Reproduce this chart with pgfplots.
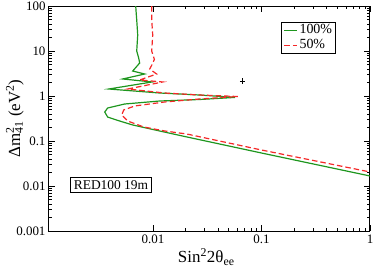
\documentclass[border=0pt]{standalone}
\usepackage{pgfplots}
\pgfplotsset{compat=1.18}
\usepackage{fontspec}
\setmainfont{Liberation Serif}
\definecolor{grn}{RGB}{30,150,30}
\definecolor{rd}{RGB}{245,40,40}
\begin{document}
\begin{tikzpicture}
\useasboundingbox (-49bp,-44bp) rectangle (325bp,231bp);
\begin{axis}[
  at={(0,0)}, anchor=south west,
  scale only axis, width=321bp, height=225bp,
  xmode=log, ymode=log,
  xmin=0.0011, xmax=1, ymin=0.001, ymax=100,
  xtick={0.01,0.1,1}, xticklabels={0.01,0.1,1},
  ytick={0.001,0.01,0.1,1,10,100}, yticklabels={0.001,0.01,0.1,1,10,100},
  /pgf/number format/assume math mode=true,
  tick label style={font=\fontsize{13}{15}\selectfont},
  major tick length=6bp, minor tick length=3bp,
  axis line style={line width=1pt},
  every tick/.style={black, line width=0.8pt},
  xlabel={Sin\textsuperscript{2}2θ\textsubscript{ee}},
  ylabel={Δm\rlap{\textsuperscript{2}}\textsubscript{41} (eV\textsuperscript{2})},
  xlabel style={at={(axis description cs:0.49,-0.142)}, anchor=base, font=\fontsize{17}{19}\selectfont},
  ylabel style={at={(axis description cs:-0.106,0.5)}, anchor=center, font=\fontsize{17}{19}\selectfont},
  legend style={at={(axis description cs:0.894,0.929)}, anchor=north east,
    draw=black, line width=0.8pt, font=\fontsize{14}{15}\selectfont,
    inner xsep=2bp, inner ysep=0.5bp, row sep=0pt,
    nodes={inner xsep=1.5pt, inner ysep=0.3pt, text height=10.5pt, text depth=4pt}},
  legend image code/.code={\draw[#1] (0bp,0bp) -- (13bp,0bp);},
  legend cell align=left,
]
\addplot[grn, line width=1.2pt] coordinates {
(0.00693,100) (0.00700,70) (0.00708,48.9) (0.00723,22.7) (0.00708,10) (0.00738,6.99) (0.00754,5.41)
(0.0065,3.59) (0.00838,3.08) (0.00526,2.39) (0.0098,2.05) (0.00391,1.43) (0.0115,1.166)
(0.0269,1.052) (0.057,0.93) (0.0269,0.836) (0.0115,0.774) (0.00548,0.664) (0.00382,0.541)
(0.00359,0.441) (0.00382,0.341) (0.00493,0.278) (0.0065,0.227) (0.0115,0.167) (0.0205,0.123)
(0.1,0.0541) (1,0.0167)
};
\addlegendentry{100\%}
\addplot[rd, line width=1.2pt, dash pattern=on 5.5bp off 3bp] coordinates {
(0.00973,100) (0.00973,48.9) (0.00994,22.7) (0.00973,10) (0.0103,6.5) (0.0098,5.0) (0.00933,3.98)
(0.0108,3.08) (0.00754,2.27) (0.0123,2.05) (0.00585,1.43) (0.0128,1.166) (0.0269,1.052)
(0.0604,0.975) (0.0269,0.858) (0.0128,0.736) (0.00678,0.600) (0.00537,0.489) (0.00515,0.378)
(0.00585,0.278) (0.00821,0.205) (0.0128,0.167) (0.0205,0.143) (0.1,0.0631) (1,0.0205)
};
\addlegendentry{50\%}
\addplot[black, only marks, mark=+, mark size=2.8pt, mark options={line width=0.6pt}, forget plot] coordinates {(0.067,2.15)};
\node[draw=black, line width=0.6pt, fill=white, font=\fontsize{13.5}{15}\selectfont, inner xsep=3.5bp, inner ysep=3bp] at (axis cs:0.0041,0.0105) {RED100 19m};
\end{axis}
\end{tikzpicture}
\end{document}
